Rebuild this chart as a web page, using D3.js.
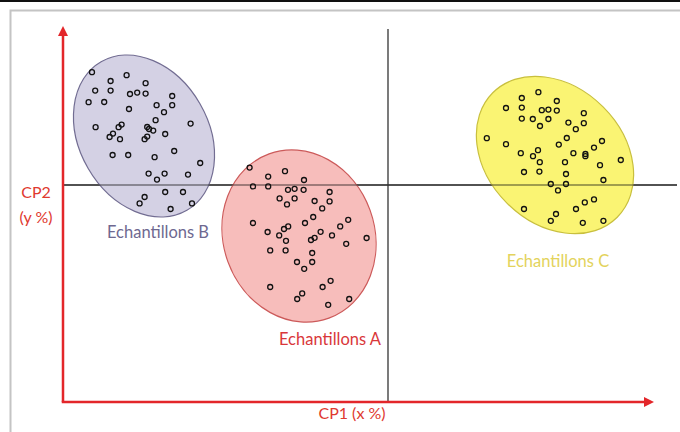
<!DOCTYPE html>
<html>
<head>
<meta charset="utf-8">
<script src="https://cdn.jsdelivr.net/npm/d3@7"></script>
<style>
  body { margin: 0; background: #fff; }
  text { font-family: Lato, "Open Sans", sans-serif; }
</style>
</head>
<body>
<div id="chart"></div>
<script>
// sample scores on the two principal components (CP1, CP2)
var samplesA = [
  [-6.92, 0.87], [-5.99, 0.42], [-5.15, 0.69], [-4.2, 0.25], [-6.75, -0.07], [-5.99, -0.07],
  [-5.0, -0.24], [-4.67, -0.19], [-4.22, -0.24], [-2.92, -0.35], [-5.42, -0.67], [-4.67, -0.67],
  [-5.05, -0.97], [-3.67, -0.8], [-2.92, -0.82], [-3.29, -1.17], [-3.74, -1.6], [-1.99, -1.74],
  [-6.75, -1.9], [-4.15, -1.9], [-2.39, -2.07], [-6.02, -2.35], [-4.99, -2.07], [-5.2, -2.2],
  [-5.44, -2.52], [-5.1, -2.79], [-3.37, -2.34], [-3.67, -2.64], [-3.85, -2.75], [-2.8, -2.52],
  [-1.07, -2.65], [-2.09, -2.94], [-5.89, -3.27], [-5.12, -3.27], [-3.79, -3.4], [-3.79, -3.85],
  [-4.55, -3.85], [-4.19, -4.19], [-5.89, -5.1], [-3.27, -5.1], [-2.87, -4.79], [-4.29, -5.42],
  [-4.54, -5.7], [-2.99, -5.99], [-1.94, -5.7]
];
var samplesB = [
  [-14.8, 5.64], [-13.07, 5.49], [-13.87, 5.2], [-12.12, 5.09], [-14.64, 4.72], [-13.87, 4.72],
  [-12.9, 4.55], [-12.54, 4.62], [-12.12, 4.57], [-10.79, 4.45], [-14.97, 4.14], [-14.19, 4.15],
  [-11.57, 3.99], [-10.79, 3.99], [-12.95, 3.8], [-11.2, 3.64], [-11.62, 3.24], [-9.87, 3.07],
  [-14.62, 2.89], [-13.47, 2.89], [-13.32, 3.02], [-13.75, 2.57], [-13.92, 2.4], [-13.4, 2.29],
  [-12.04, 2.9], [-11.95, 2.8], [-11.74, 2.72], [-12.04, 2.42], [-12.17, 2.29], [-11.14, 2.55],
  [-10.69, 1.7], [-13.77, 1.5], [-12.99, 1.5], [-11.67, 1.39], [-9.39, 1.1], [-11.97, 0.57],
  [-11.55, 0.27], [-11.17, 0.57], [-10.0, 0.52], [-11.14, -0.35], [-10.25, -0.35], [-12.17, -0.6],
  [-12.42, -0.92], [-9.8, -0.92], [-10.87, -1.2]
];
var samplesC = [
  [7.52, 4.64], [6.69, 4.35], [8.44, 4.2], [5.9, 3.85], [6.69, 3.87], [7.69, 3.74], [8.02, 3.77],
  [8.44, 3.72], [9.79, 3.59], [6.69, 3.32], [7.24, 3.3], [8.02, 3.3], [7.6, 2.95], [9.02, 3.12],
  [9.79, 3.09], [9.39, 2.79], [4.94, 2.34], [5.9, 2.04], [8.94, 2.35], [8.54, 2.02], [10.7, 2.2],
  [10.3, 1.87], [6.64, 1.59], [7.25, 1.44], [7.5, 1.74], [9.27, 1.59], [9.87, 1.55], [9.87, 1.44],
  [11.64, 1.25], [7.59, 1.14], [8.85, 1.14], [10.6, 0.99], [6.8, 0.65], [7.57, 0.67], [8.9, 0.55],
  [10.77, 0.25], [8.14, 0.05], [8.9, 0.05], [8.5, -0.27], [6.8, -1.2], [8.4, -1.45], [8.14, -1.79],
  [9.4, -1.2], [9.84, -0.87], [10.3, -0.72], [9.74, -1.89], [10.77, -1.79]
];

// confidence ellipses: centre, semi-axes, tilt (degrees)
var groupNames = ["Echantillons B", "Echantillons A", "Echantillons C"];
var groupCentres = [[-12.2, 2.45], [-4.45, -2.55], [8.35, 1.5]];
var groupRadii = [[3.23, 4.29], [3.78, 4.37], [3.4, 4.4]];
var groupAngles = [-30, -20, -45];
var groupLabelPos = [[-11.5, -2.65], [-2.9, -8.0], [8.5, -4.1]];
var axisLabels = ["CP1 (x %)", "CP2", "(y %)"];

var width = 680, height = 432;
var fills = ["#cdc9df", "#f6b1af", "#f9f25a"];
var strokes = ["#726d92", "#cc5a5a", "#c8bf3e"];
var labelColors = ["#6e6890", "#d9373a", "#e3d35c"];

var svg = d3.select("#chart").append("svg")
  .attr("width", width)
  .attr("height", height);

// picture frame
svg.append("line").attr("x1", 0).attr("x2", width).attr("y1", 1).attr("y2", 1)
  .attr("stroke", "#111").attr("stroke-width", 2);
svg.append("path").attr("d", "M10.5," + height + "V10.5H" + width)
  .attr("fill", "none").attr("stroke", "#c4c4c4").attr("stroke-width", 2);

var x = d3.scaleLinear().domain([-16.25, 13.25]).range([63, 653]);
var y = d3.scaleLinear().domain([-10.85, 7.9]).range([402, 27]);
var unit = x(1) - x(0);

// reference lines through the origin
svg.append("line")
  .attr("x1", x(0)).attr("x2", x(0)).attr("y1", y(7.8)).attr("y2", y(-10.85))
  .attr("stroke", "#333").attr("stroke-width", 1.3);
svg.append("line")
  .attr("x1", x(-16.25)).attr("x2", x(14.45)).attr("y1", y(0)).attr("y2", y(0))
  .attr("stroke", "#333").attr("stroke-width", 1.3);

// ellipses
groupNames.forEach(function(name, i) {
  svg.append("ellipse")
    .attr("transform", "translate(" + x(groupCentres[i][0]) + "," + y(groupCentres[i][1]) + ") rotate(" + groupAngles[i] + ")")
    .attr("rx", groupRadii[i][0] * unit)
    .attr("ry", groupRadii[i][1] * unit)
    .attr("fill", fills[i])
    .attr("fill-opacity", 0.85)
    .attr("stroke", strokes[i])
    .attr("stroke-width", 1.2);
});

// redraw the horizontal line over the ellipses
svg.append("line")
  .attr("x1", x(-16.25)).attr("x2", x(14.45)).attr("y1", y(0)).attr("y2", y(0))
  .attr("stroke", "#333").attr("stroke-opacity", 0.75).attr("stroke-width", 1.2);

// sample points
[samplesB, samplesA, samplesC].forEach(function(pts) {
  svg.selectAll(null).data(pts).enter().append("circle")
    .attr("cx", function(d) { return x(d[0]); })
    .attr("cy", function(d) { return y(d[1]); })
    .attr("r", 2.5)
    .attr("fill", "none")
    .attr("stroke", "#111")
    .attr("stroke-width", 1.3);
});

// red axes with arrows
var defs = svg.append("defs");
defs.append("marker")
  .attr("id", "arrow")
  .attr("viewBox", "0 0 10 10")
  .attr("refX", 5).attr("refY", 5)
  .attr("markerWidth", 4).attr("markerHeight", 4)
  .attr("orient", "auto")
  .append("path").attr("d", "M0,0L10,5L0,10z").attr("fill", "#e3262a");

svg.append("path")
  .attr("d", "M" + x(-16.25) + "," + y(-10.85) + "V" + (y(7.9) + 4))
  .attr("stroke", "#e3262a").attr("stroke-width", 2.5).attr("fill", "none")
  .attr("marker-end", "url(#arrow)");
svg.append("path")
  .attr("d", "M" + (x(-16.25) - 1.25) + "," + y(-10.85) + "H" + (x(13.25) - 4))
  .attr("stroke", "#e3262a").attr("stroke-width", 2.5).attr("fill", "none")
  .attr("marker-end", "url(#arrow)");

// axis titles
svg.append("text").attr("x", 352).attr("y", 419).attr("text-anchor", "middle")
  .attr("font-size", 16).attr("fill", "#e0392f").text(axisLabels[0]);
svg.append("text").attr("x", 36).attr("y", 198).attr("text-anchor", "middle")
  .attr("font-size", 16).attr("fill", "#e0392f").text(axisLabels[1]);
svg.append("text").attr("x", 36).attr("y", 223).attr("text-anchor", "middle")
  .attr("font-size", 16).attr("fill", "#e0392f").text(axisLabels[2]);

// group labels
groupNames.forEach(function(name, i) {
  svg.append("text")
    .attr("x", x(groupLabelPos[i][0]))
    .attr("y", y(groupLabelPos[i][1]))
    .attr("text-anchor", "middle")
    .attr("font-size", 16.5)
    .attr("fill", labelColors[i])
    .text(name);
});
</script>
</body>
</html>
